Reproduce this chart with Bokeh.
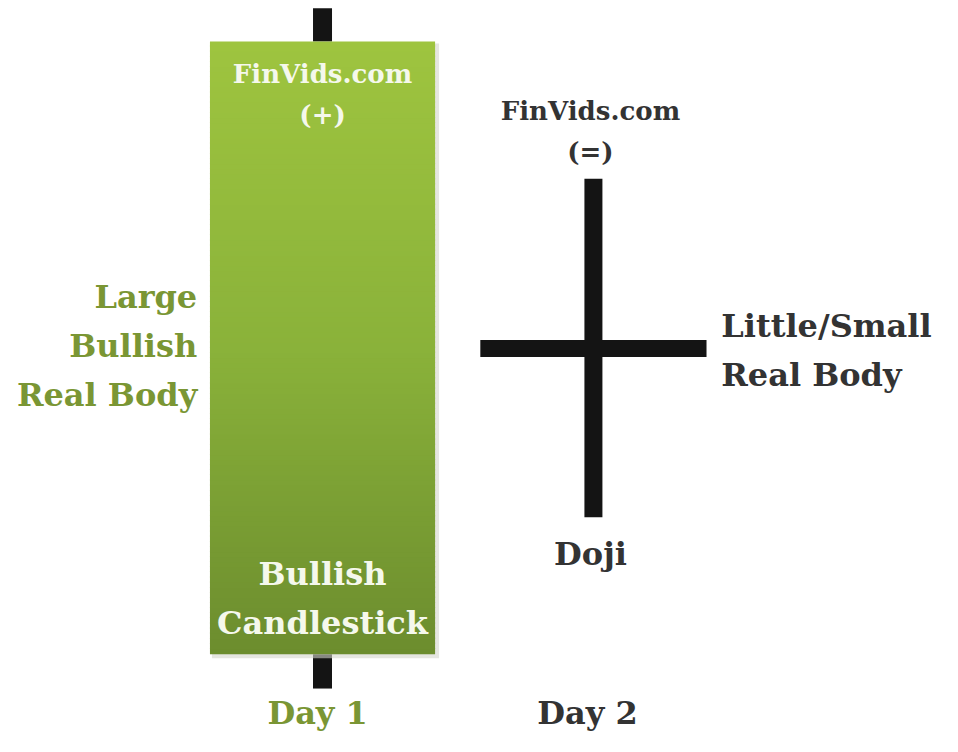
from bokeh.plotting import figure
from bokeh.models import Range1d
from bokeh.core.properties import value
from bokeh.embed import file_html
from bokeh.resources import INLINE

# ---- data ----
days = ["Day 1", "Day 2"]
day_x = [1, 2]
open_p = [8.4, 39.6]
close_p = [71.0, 39.7]
high_p = [74.4, 57.0]
low_p = [4.9, 22.4]
body_width = [0.831, 0.835]

FONT = value("DejaVu Serif")
GREEN_TXT = "#7a9634"
DARK_TXT = "#333333"
WHITE_TXT = "#f5f8ec"

W, H = 942, 736
p = figure(width=W, height=H, output_backend="svg", toolbar_location=None,
           x_range=Range1d(-0.1887, 3.2886), y_range=Range1d(0, 75.2),
           min_border=0, border_fill_color="white", background_fill_color="white")
p.axis.visible = False
p.grid.visible = False
p.outline_line_color = None

S = 0.98  # screen offset scale
PX_X = (3.2886 + 0.1887) / W
PX_Y = 75.2 / H

# ---- Day 1: bullish candle ----
x1, o1, c1, h1, l1, w1 = day_x[0], open_p[0], close_p[0], high_p[0], low_p[0], body_width[0]
p.segment(x0=[x1, x1], y0=[c1, o1], x1=[x1, x1], y1=[h1, l1],
          line_color="#141414", line_width=19)
# soft shadow behind body
p.quad(left=[x1 - w1 / 2 + 2 * PX_X], right=[x1 + w1 / 2 + 4 * PX_X],
       bottom=[o1 - 4 * PX_Y], top=[c1 - 2 * PX_Y],
       fill_color="#d3d6cc", fill_alpha=0.6, line_color=None)
# body with vertical gradient
top_c = (158, 196, 63)
mid_c = (138, 178, 58)
bot_c = (108, 141, 46)
n = 120
lefts, rights, bottoms, tops, cols = [], [], [], [], []
for i in range(n):
    t = i / (n - 1)
    if t < 0.5:
        a, b, u = bot_c, mid_c, t / 0.5
    else:
        a, b, u = mid_c, top_c, (t - 0.5) / 0.5
    col = tuple(int(round(a[k] + (b[k] - a[k]) * u)) for k in range(3))
    lefts.append(x1 - w1 / 2)
    rights.append(x1 + w1 / 2)
    bottoms.append(o1 + (c1 - o1) * i / n)
    tops.append(min(c1, o1 + (c1 - o1) * (i + 1) / n + 1.5 * PX_Y))
    cols.append("#%02x%02x%02x" % col)
p.quad(left=lefts, right=rights, bottom=bottoms, top=tops,
       fill_color=cols, line_color=None)

# ---- Day 2: doji ----
x2, o2, c2, h2, l2, w2 = day_x[1], open_p[1], close_p[1], high_p[1], low_p[1], body_width[1]
p.segment(x0=[x2], y0=[l2], x1=[x2], y1=[h2], line_color="#141414", line_width=18)
p.segment(x0=[x2 - w2 / 2], y0=[(o2 + c2) / 2], x1=[x2 + w2 / 2], y1=[(o2 + c2) / 2],
          line_color="#141414", line_width=17)

# ---- texts ----
def txt(x, y, s, color, size, align="center", xo=0, yo=0):
    p.text(x=[x], y=[y], text=[s], text_color=color, text_font=FONT,
           text_font_style="bold", text_font_size=size, text_align=align,
           text_baseline="middle", x_offset=xo * S, y_offset=yo * S)

BIG = "32px"
MED = "26px"

# inside bullish body
txt(x1, c1, "FinVids.com", WHITE_TXT, MED, yo=33)
txt(x1, c1, "(+)", WHITE_TXT, MED, yo=75)
txt(x1, o1, "Bullish", WHITE_TXT, BIG, yo=-82)
txt(x1, o1, "Candlestick", WHITE_TXT, BIG, yo=-32)

# left annotation
mid1 = (o1 + c1) / 2
txt(x1 - w1 / 2, mid1, "Large", GREEN_TXT, BIG, align="right", xo=-13, yo=-52)
txt(x1 - w1 / 2, mid1, "Bullish", GREEN_TXT, BIG, align="right", xo=-13, yo=-2)
txt(x1 - w1 / 2, mid1, "Real Body", GREEN_TXT, BIG, align="right", xo=-13, yo=48)

# doji annotations
txt(x2, h2, "FinVids.com", DARK_TXT, MED, xo=-3, yo=-69)
txt(x2, h2, "(=)", DARK_TXT, MED, xo=-3, yo=-27)
txt(x2 + w2 / 2, (o2 + c2) / 2, "Little/Small", DARK_TXT, BIG, align="left", xo=15, yo=-23)
txt(x2 + w2 / 2, (o2 + c2) / 2, "Real Body", DARK_TXT, BIG, align="left", xo=15, yo=27)
txt(x2, l2, "Doji", DARK_TXT, BIG, xo=-3, yo=37)

# day labels
day_cols = [GREEN_TXT, DARK_TXT]
day_xo = [-5, -6]
for d, xx, cc, xo in zip(days, day_x, day_cols, day_xo):
    txt(xx, p.y_range.start, d, cc, BIG, xo=xo, yo=-24)

open("out.html", "w").write(file_html(p, INLINE))
